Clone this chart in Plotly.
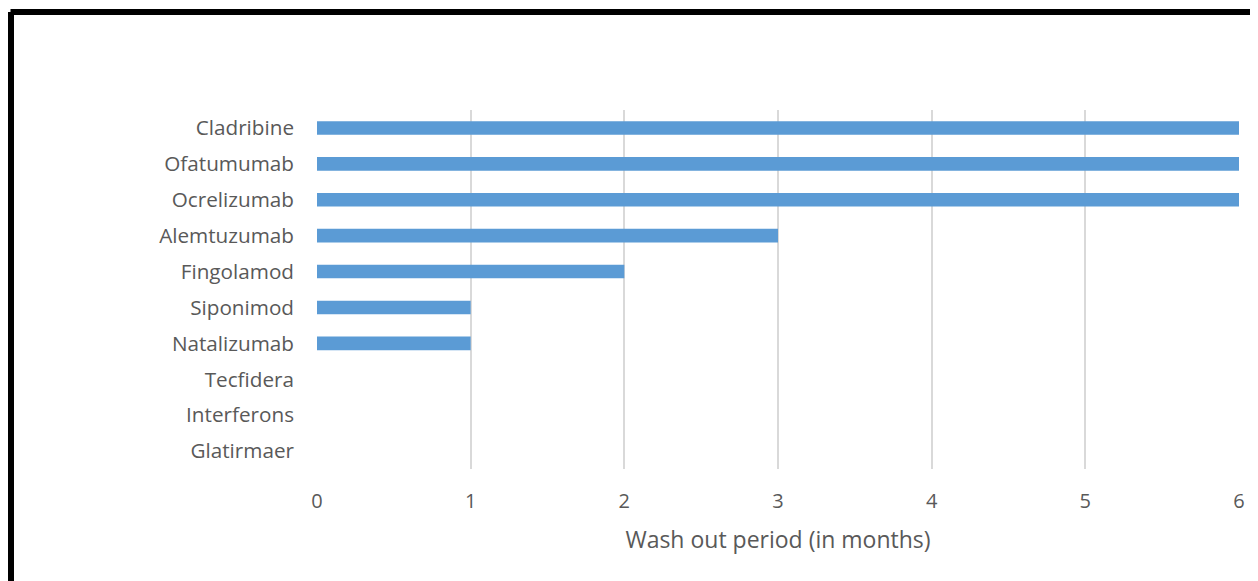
import plotly.graph_objects as go

drugs = ["Cladribine", "Ofatumumab", "Ocrelizumab", "Alemtuzumab", "Fingolamod",
         "Siponimod", "Natalizumab", "Tecfidera", "Interferons", "Glatirmaer"]
washout_months = [6, 6, 6, 3, 2, 1, 1, 0, 0, 0]
x_ticks = [0, 1, 2, 3, 4, 5, 6]

fig = go.Figure(go.Bar(
    x=washout_months, y=drugs, orientation="h",
    marker=dict(color="#5B9BD5", line=dict(width=0)),
    width=0.38,
))

# page is offset by the 8px body margin
OFF = 8
W, H = 1258, 581
L = 317 - OFF
R = W - (1239 - OFF)
T = 110 - OFF
B = H - (469 - OFF)
pw, ph = W - L - R, H - T - B

fig.update_layout(
    width=W, height=H,
    margin=dict(l=L, r=R, t=T, b=B),
    paper_bgcolor="white", plot_bgcolor="white",
    showlegend=False,
    font=dict(family="Open Sans, sans-serif", color="#595959", size=21),
    xaxis=dict(
        range=[0, 6], tickvals=x_ticks, showgrid=True, gridcolor="#D9D9D9", gridwidth=1.5,
        zeroline=False, showline=False, ticks="", ticklabelstandoff=18,
        tickfont=dict(size=20, color="#595959"),
        title=dict(text="Wash out period (in months)", font=dict(size=23, color="#595959"), standoff=18),
    ),
    yaxis=dict(
        autorange="reversed", showgrid=False, zeroline=False, showline=False, ticks="",
        ticklabelstandoff=22, tickfont=dict(size=20.7, color="#595959"),
    ),
)

# black frame (paper coords)
x_left = (10.5 - OFF - L) / pw
y_top = (H - B - (12 - OFF)) / ph
fig.add_shape(type="line", xref="paper", yref="paper", x0=x_left, x1=1.2, y0=y_top, y1=y_top,
              line=dict(color="black", width=6))
fig.add_shape(type="line", xref="paper", yref="paper", x0=x_left, x1=x_left, y0=y_top, y1=-0.5,
              line=dict(color="black", width=7))

fig.write_html("out.html")
